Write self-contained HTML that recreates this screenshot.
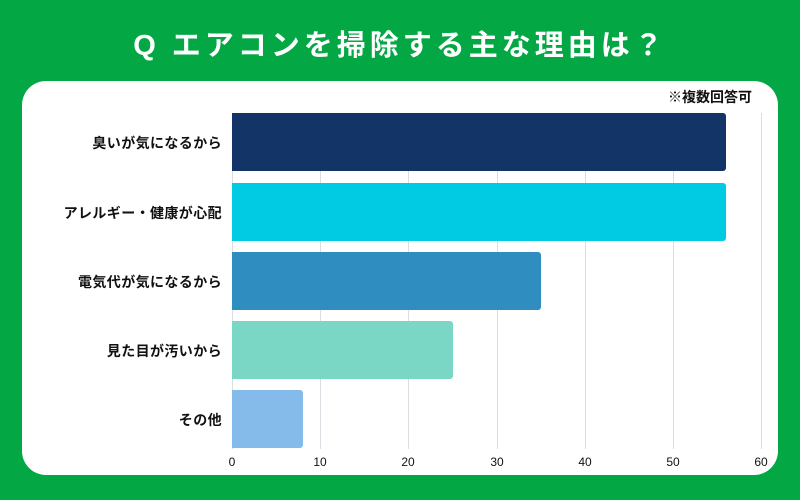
<!DOCTYPE html>
<html><head><meta charset="utf-8"><style>
body{margin:0;width:800px;height:500px;background:#03a744;overflow:hidden;font-family:"Liberation Sans","Noto Sans CJK JP",sans-serif;}
.t{position:absolute;left:0;width:800px;top:22px;text-align:center;color:#fff;font-size:29px;font-weight:bold;letter-spacing:4px}
.p{position:absolute;left:22px;top:81px;width:756px;height:394px;background:#fff;border-radius:24px}
.g{position:absolute;top:113px;height:336px;width:1px;background:#dcdce2}
.b{position:absolute;left:232px;height:58px;border-radius:0 3px 3px 0}
.l{position:absolute;right:578px;font-size:14px;letter-spacing:0.4px;font-weight:bold;color:#111;white-space:nowrap}
.k{position:absolute;top:455px;width:30px;margin-left:-15px;text-align:center;font-size:12px;color:#111}
.n{position:absolute;right:48px;top:87px;font-size:14px;font-weight:bold;color:#111}
</style></head><body>
<div class="t">Q エアコンを掃除する主な理由は？</div>
<div class="p"></div>
<div class="n">※複数回答可</div>
<div class="g" style="left:232px"></div><div class="g" style="left:320px"></div><div class="g" style="left:408px"></div><div class="g" style="left:497px"></div><div class="g" style="left:585px"></div><div class="g" style="left:673px"></div><div class="g" style="left:761px"></div>
<div class="b" style="top:113px;width:494px;background:#133467"></div>
<div class="b" style="top:183px;width:494px;background:#00cbe3"></div>
<div class="b" style="top:252px;width:309px;background:#2f8dbf"></div>
<div class="b" style="top:321px;width:221px;background:#7ad7c6"></div>
<div class="b" style="top:390px;width:71px;background:#85bbea"></div>
<div class="l" style="top:133px">臭いが気になるから</div>
<div class="l" style="top:203px">アレルギー・健康が心配</div>
<div class="l" style="top:272px">電気代が気になるから</div>
<div class="l" style="top:341px">見た目が汚いから</div>
<div class="l" style="top:410px">その他</div>
<div class="k" style="left:232px">0</div><div class="k" style="left:320px">10</div><div class="k" style="left:408px">20</div><div class="k" style="left:497px">30</div><div class="k" style="left:585px">40</div><div class="k" style="left:673px">50</div><div class="k" style="left:761px">60</div>
</body></html>
